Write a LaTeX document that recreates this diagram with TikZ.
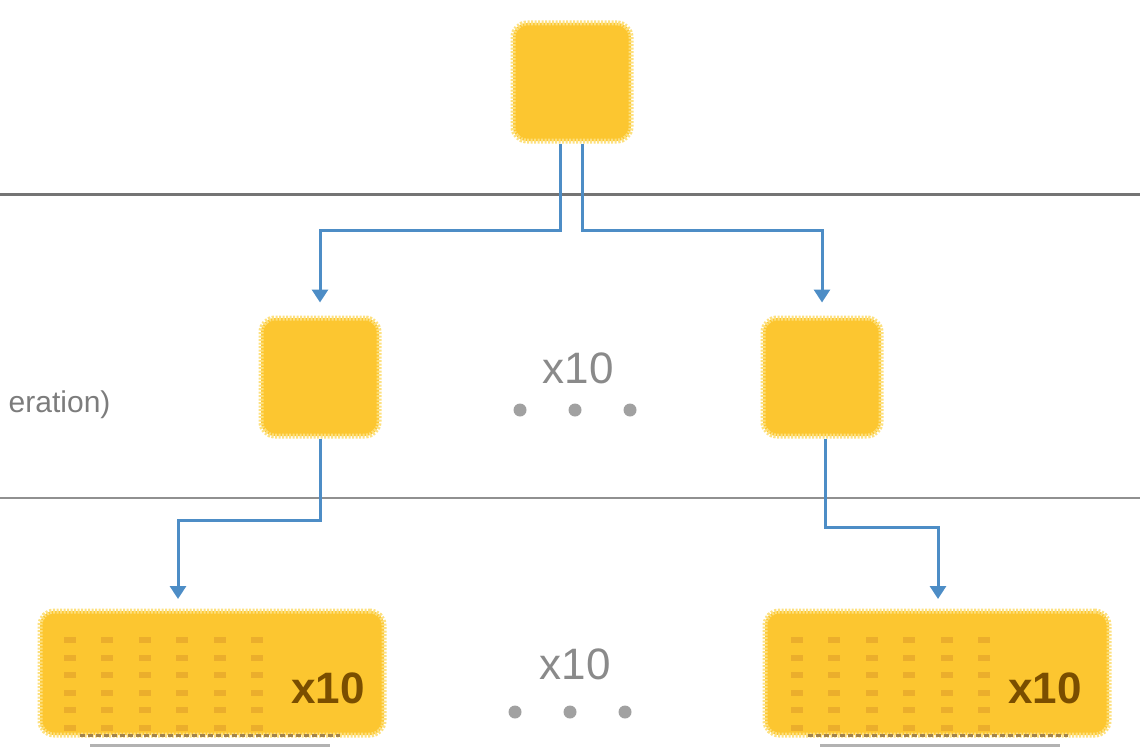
\documentclass[tikz,border=0pt]{standalone}
\usepackage{fontspec}
\setmainfont{Liberation Sans}
\usetikzlibrary{arrows.meta}
\definecolor{boxfill}{HTML}{FCC630}
\definecolor{boxedge}{HTML}{FDE07E}
\definecolor{boxmark}{HTML}{EBAE2C}
\definecolor{wire}{HTML}{4D8DC6}
\definecolor{rule}{HTML}{747474}
\definecolor{label}{HTML}{8A8A8A}
\definecolor{brownlabel}{HTML}{7A4E00}
\tikzset{
  card/.style={rectangle, rounded corners=14pt, fill=boxfill, draw=boxedge,
    line width=5pt, dash pattern=on 2pt off 1.5pt, inner sep=0pt},
  small card/.style={card, minimum width=118pt, minimum height=118pt},
  stack card/.style={card, minimum width=344pt, minimum height=124pt},
  link/.style={draw=wire, line width=3pt, -{Triangle[length=13pt,width=16pt]}, shorten >=13pt},
  dot/.style={circle, fill=label!80, inner sep=0pt, minimum size=13pt},
  count/.style={font=\fontsize{44}{44}\selectfont, text=label},
  stackcount/.style={font=\fontsize{44}{44}\selectfont\bfseries, text=brownlabel},
}
\begin{document}
\begin{tikzpicture}[x=1pt,y=-1pt]
\useasboundingbox (0,0) rectangle (1140,752);

% tier separators
\draw[rule, line width=3pt] (0,194) -- (1140,194);
\draw[rule!80, line width=2pt] (0,498) -- (1140,498);

% tier label, cut by the left border
\begin{scope}
\clip (0,0) rectangle (1140,752);
\node[anchor=east, font=\fontsize{30}{30}\selectfont, text=label!90!black] (tierlabel) at (114,405) {eration)};
\end{scope}

% boxes
\node[small card] (top) at (572,82) {};
\node[small card] (midL) at (320,377) {};
\node[small card] (midR) at (822,377) {};

% stacked boxes: shadow cards underneath
\draw[line width=3pt, gray!60] (90,745) -- (330,745);
\draw[line width=3pt, gray!60] (820,745) -- (1060,745);
\node[stack card] (botL) at (212,673) {};
\node[stack card] (botR) at (937,673) {};
\draw[line width=3pt, brownlabel!70, dash pattern=on 5pt off 3pt] (80,735) -- (340,735);
\draw[line width=3pt, brownlabel!70, dash pattern=on 5pt off 3pt] (808,735) -- (1068,735);

% grid marks inside the stacked boxes
\foreach \bx in {70,797} {
  \foreach \i in {0,...,5} {
    \foreach \j in {0,...,5} {
      \fill[boxmark] (\bx+\i*37.4-6, 640+\j*17.5-3) rectangle ++(12,6);
    }
  }
}
\node[stackcount] (countL) at (328,688) {x10};
\node[stackcount] (countR) at (1045,688) {x10};

% repetition markers
\node[count] (midcount) at (578,368) {x10};
\node[dot] (md1) at (520,410) {};
\node[dot] (md2) at (575,410) {};
\node[dot] (md3) at (630,410) {};
\node[count] (botcount) at (575,664) {x10};
\node[dot] (bd1) at (515,712) {};
\node[dot] (bd2) at (570,712) {};
\node[dot] (bd3) at (625,712) {};

% connectors
\coordinate (splitL) at (560,230);
\coordinate (splitR) at (582,230);
\draw[link] ([xshift=-12pt]top.south) -- (splitL) -| (midL.north);
\draw[link] ([xshift=10pt]top.south) -- (splitR) -| (midR.north);
\coordinate (elbowL) at (320,520);
\coordinate (elbowR) at (825,527);
\coordinate (inL) at (178,612);
\coordinate (inR) at (938,612);
\draw[link] (midL.south) -- (elbowL) -| (inL);
\draw[link] ([xshift=3pt]midR.south) -- (elbowR) -| (inR);
\end{tikzpicture}
\end{document}
